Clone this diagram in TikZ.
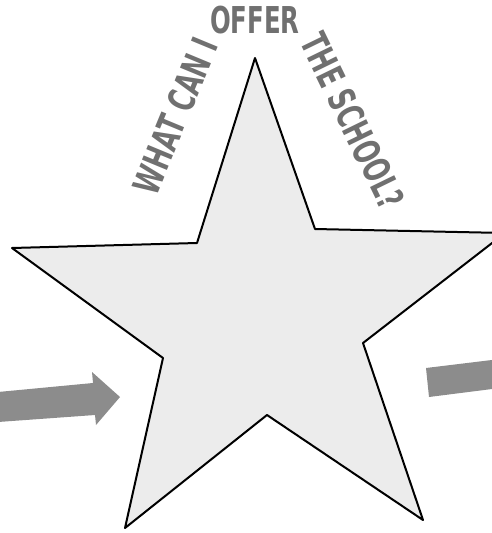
\documentclass[tikz,border=0pt]{standalone}
\usepackage{fontspec}
\newfontfamily\headfont[FakeStretch=0.66]{DejaVu Sans}
\definecolor{starfill}{RGB}{236,236,236}
\definecolor{arrowgray}{RGB}{140,140,140}
\definecolor{textgray}{RGB}{112,112,112}
\tikzset{
  starline/.style={draw=black, line width=2pt, fill=starfill, line join=round},
  arrowshape/.style={fill=arrowgray, draw=none},
  headtext/.style={text=textgray, inner sep=0pt, text depth=0pt, anchor=center,
     font=\headfont\bfseries\fontsize{37}{37}\selectfont}
}
\begin{document}
\begin{tikzpicture}[x=1pt,y=-1pt]
\useasboundingbox (0,0) rectangle (492,533);
\begin{scope}
\clip (0,0) rectangle (492,533);
% star
\draw[starline] (255,58) -- (315,229) -- (505,233) -- (363,343) -- (423,520)
  -- (267,415) -- (125,528) -- (163,358) -- (12,248) -- (197,243) -- cycle;
% left arrow
\fill[arrowshape] (-2,392) -- (93,383) -- (92,372) -- (120,397) -- (96,425)
  -- (95,415) -- (-2,422) -- cycle;
% right arrow (cut off at the edge)
\fill[arrowshape] (426,368) -- (500,359) -- (500,388) -- (429,397) -- cycle;
\end{scope}
% text
\node[headtext] (offer) at (255,20) {OFFER};
\node[headtext, rotate=67.5] (what) at (175,116) {WHAT CAN I};
\node[headtext, rotate=-64] (school) at (353,121) {THE SCHOOL?};
\end{tikzpicture}
\end{document}
